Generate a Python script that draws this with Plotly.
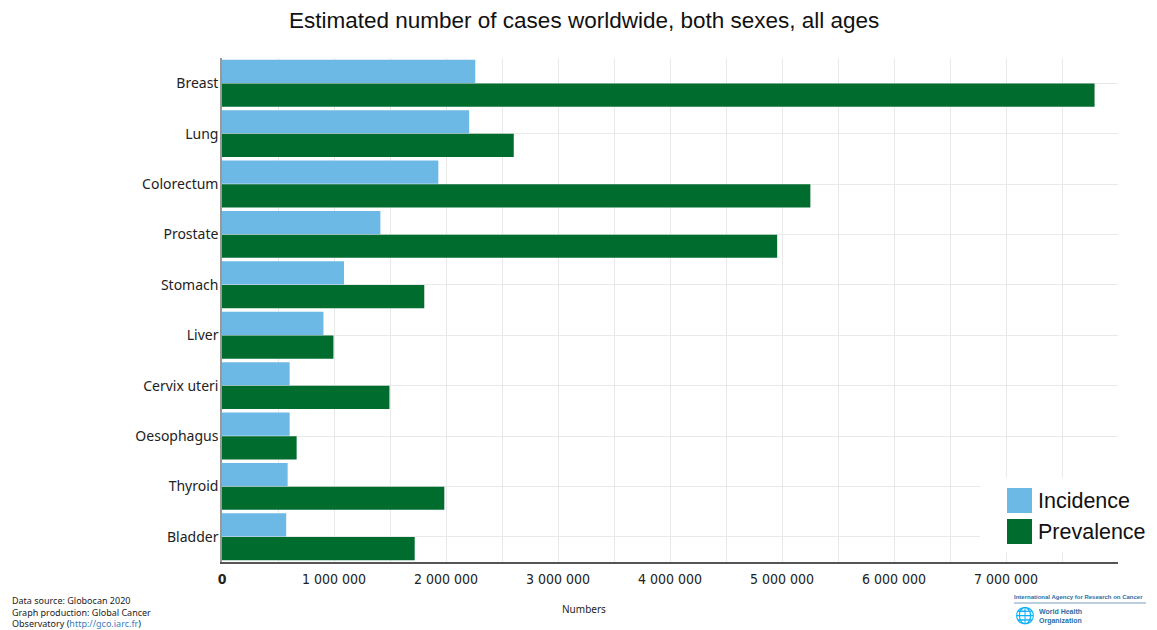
import plotly.graph_objects as go

cancers = ["Breast", "Lung", "Colorectum", "Prostate", "Stomach", "Liver",
           "Cervix uteri", "Oesophagus", "Thyroid", "Bladder"]
incidence = [2261419, 2206771, 1931590, 1414259, 1089103, 905677,
             604127, 604100, 586202, 573278]
prevalence = [7790717, 2604870, 5253335, 4956901, 1805968, 994968,
              1495211, 666388, 1984927, 1720625]
x_tickvals = [0, 1000000, 2000000, 3000000, 4000000, 5000000, 6000000, 7000000]
x_ticktext = ["<b>0</b>", "1 000 000", "2 000 000", "3 000 000", "4 000 000",
              "5 000 000", "6 000 000", "7 000 000"]
series_names = ["Incidence", "Prevalence"]

INC_COLOR = "#6cb9e5"
PREV_COLOR = "#006d2f"

# page is rendered with an 8px body margin; screen-pixel helpers
PL, PR, PT, PB = 222, 1118, 58, 562
PW, PH = PR - PL, PB - PT


def px(X):
    return (X - PL) / PW


def py(Y):
    return (PB - Y) / PH


fig = go.Figure()
fig.add_trace(go.Bar(y=cancers, x=incidence, orientation="h", name=series_names[0],
                     marker=dict(color=INC_COLOR, line=dict(width=0))))
fig.add_trace(go.Bar(y=cancers, x=prevalence, orientation="h", name=series_names[1],
                     marker=dict(color=PREV_COLOR, line=dict(width=0))))

fig.update_layout(
    width=1149, height=622,
    margin=dict(l=PL - 8, r=1149 - (PL - 8) - PW, t=PT - 8, b=622 - (PT - 8) - PH),
    paper_bgcolor="white", plot_bgcolor="white",
    barmode="group", bargap=0.06, bargroupgap=0.02,
    showlegend=False,
    font=dict(family="Noto Sans, Open Sans, sans-serif", color="#222"),
    xaxis=dict(range=[0, 8000000], tickvals=x_tickvals, ticktext=x_ticktext,
               showgrid=True, gridcolor="#e9e9e9", gridwidth=1,
               minor=dict(dtick=500000, showgrid=True, gridcolor="#e9e9e9", gridwidth=1),
               showline=True, linecolor="#555", linewidth=1.5,
               ticks="", ticklabelstandoff=3,
               tickfont=dict(family="DejaVu Sans Condensed, Liberation Sans Narrow, sans-serif",
                             size=14, color="#222"),
               zeroline=False, fixedrange=True),
    yaxis=dict(autorange="reversed", showgrid=True, gridcolor="#e9e9e9", gridwidth=1,
               showline=True, linecolor="#999", linewidth=1.5,
               ticks="", ticklabelstandoff=-1,
               tickfont=dict(family="Noto Sans, Open Sans, sans-serif", size=14, color="#222"),
               fixedrange=True),
)

# title
fig.add_annotation(text="Estimated number of cases worldwide, both sexes, all ages",
                   xref="paper", yref="paper", x=px(584), y=py(20),
                   xanchor="center", yanchor="middle", showarrow=False,
                   font=dict(family="Liberation Sans, Arial, sans-serif", size=22.5, color="#111"))

# legend (custom, large swatches)
fig.add_shape(type="rect", xref="paper", yref="paper", x0=px(980), x1=px(1118),
              y0=py(552), y1=py(478), fillcolor="white", line=dict(width=0), layer="above")
for name, color, yc in [(series_names[0], INC_COLOR, 500.5), (series_names[1], PREV_COLOR, 531.5)]:
    fig.add_shape(type="rect", xref="paper", yref="paper", x0=px(1007), x1=px(1032),
                  y0=py(yc + 12.5), y1=py(yc - 12.5), fillcolor=color, line=dict(width=0),
                  layer="above")
    fig.add_annotation(text=name, xref="paper", yref="paper", x=px(1036), y=py(yc),
                       xanchor="left", yanchor="middle", showarrow=False,
                       font=dict(family="Liberation Sans, Arial, sans-serif", size=21.5, color="#111"))

fig.add_annotation(text="Numbers", xref="paper", yref="paper", x=px(584), y=py(609),
                   showarrow=False, xanchor="center", yanchor="middle",
                   font=dict(family="Noto Sans, sans-serif", size=10, color="#222"))

fig.add_annotation(
    text=("Data source: Globocan 2020<br>Graph production: Global Cancer<br>"
          "Observatory (<span style='color:#3a7dc0'>http://gco.iarc.fr</span>)"),
    xref="paper", yref="paper", x=px(10), y=py(612),
    xanchor="left", yanchor="middle", align="left", showarrow=False,
    font=dict(family="Noto Sans, sans-serif", size=9, color="#222"))

fig.add_annotation(
    text="<b>International Agency for Research on Cancer</b>",
    xref="paper", yref="paper", x=px(1012), y=py(597),
    xanchor="left", yanchor="middle", showarrow=False,
    font=dict(family="Liberation Sans, Arial, sans-serif", size=6, color="#2a6fa8"))
fig.add_shape(type="line", xref="paper", yref="paper",
              x0=px(1014), x1=px(1146), y0=py(603), y1=py(603),
              line=dict(color="#7a9fbf", width=1))
fig.add_annotation(
    text="🌐", xref="paper", yref="paper", x=px(1025), y=py(615),
    xanchor="center", yanchor="middle", showarrow=False,
    font=dict(size=16, color="#2a6fa8"))
fig.add_annotation(
    text="<b>World Health<br>Organization</b>", xref="paper", yref="paper",
    x=px(1037), y=py(616), xanchor="left", yanchor="middle", align="left", showarrow=False,
    font=dict(family="Liberation Sans, Arial, sans-serif", size=7, color="#2a6fa8"))

fig.write_html("out.html")
